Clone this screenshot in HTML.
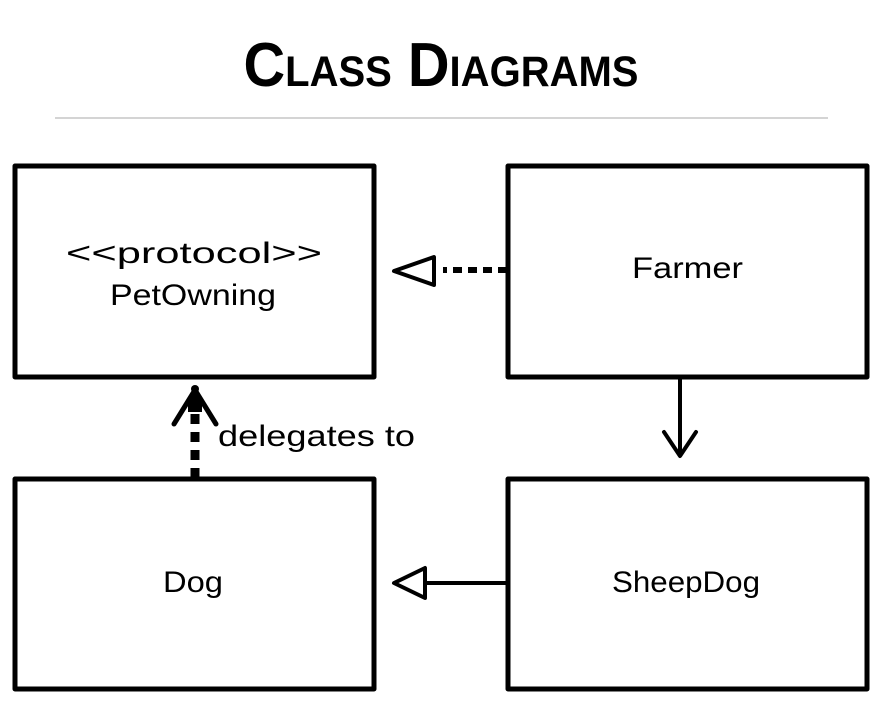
<!DOCTYPE html>
<html><head><style>
body{margin:0;background:#fff;}
svg{display:block}
text{font-family:"Liberation Sans",sans-serif;fill:#000}
</style></head><body>
<svg width="886" height="712" viewBox="0 0 886 712" xmlns="http://www.w3.org/2000/svg">
<text x="441" y="86" text-anchor="middle" font-size="62" font-weight="bold" style="font-variant:small-caps" textLength="395" lengthAdjust="spacingAndGlyphs">Class Diagrams</text>
<line x1="55" y1="118" x2="828" y2="118" stroke="#aaa" stroke-width="1"/>
<g fill="none" stroke="#000" stroke-width="5" stroke-linejoin="round" stroke-linecap="round">
<rect x="15" y="166" width="359" height="211"/>
<rect x="508" y="166" width="359" height="211"/>
<rect x="15" y="479" width="359" height="210"/>
<rect x="508" y="479" width="359" height="210"/>
<line x1="507" y1="270" x2="443" y2="270" stroke-dasharray="9,6" stroke-linecap="butt" stroke-width="6"/>
<polygon points="394,271 434,257 434,285" stroke-width="4"/>
<line x1="680" y1="378" x2="680" y2="455" stroke-width="4"/>
<polyline points="664,432 680,456 696,432" stroke-width="4"/>
<line x1="507" y1="583" x2="425" y2="583" stroke-width="4"/>
<polygon points="394,583 425,568 425,598" stroke-width="4"/>
<line x1="195" y1="478" x2="195" y2="400" stroke-dasharray="10,8" stroke-linecap="butt" stroke-width="9"/>
<polyline points="174,424 195,390 216,424" stroke-width="5"/>
</g>
<polygon points="188,398 195,389 202,398 202,412 188,412" fill="#000"/>
<circle cx="195" cy="389" r="4"/>
<text x="66" y="263" font-size="30" textLength="256" lengthAdjust="spacingAndGlyphs">&lt;&lt;protocol&gt;&gt;</text>
<text x="110" y="305" font-size="30" textLength="166" lengthAdjust="spacingAndGlyphs">PetOwning</text>
<text x="632" y="278" font-size="30" textLength="111" lengthAdjust="spacingAndGlyphs">Farmer</text>
<text x="163" y="592" font-size="30" textLength="60" lengthAdjust="spacingAndGlyphs">Dog</text>
<text x="612" y="592" font-size="30" textLength="148" lengthAdjust="spacingAndGlyphs">SheepDog</text>
<text x="218" y="446" font-size="30" textLength="197" lengthAdjust="spacingAndGlyphs">delegates to</text>
</svg>
</body></html>
